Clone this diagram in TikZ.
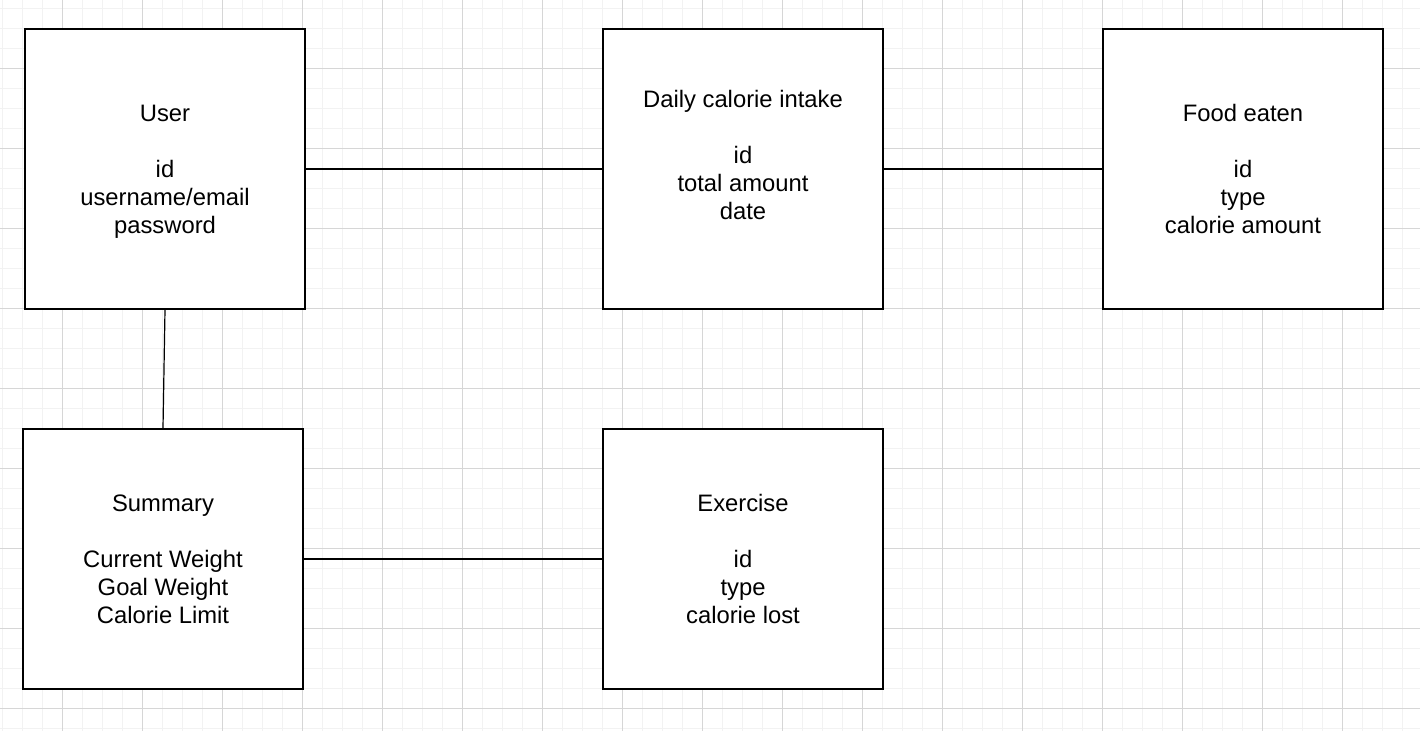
\documentclass[tikz,border=0pt]{standalone}
\usepackage{fontspec}
\setmainfont{Liberation Sans}

\definecolor{minorgrid}{RGB}{242,242,242}
\definecolor{majorgrid}{RGB}{214,214,214}

% строка одинаковой высоты
\newcommand\rowstrut{\rule[-2.8pt]{0pt}{14pt}}

\tikzset{
  entity/.style={draw, line width=0.8pt, fill=white, minimum width=140pt,
    minimum height=140pt, align=center, inner sep=0pt,
    font=\fontsize{11.9}{14}\selectfont},
  link/.style={line width=0.6pt}
}

\begin{document}
\begin{tikzpicture}[
  x=0.5pt,
  y=-0.5pt,
  line cap=rect,
  line join=miter
]
  \useasboundingbox (0,0) rectangle (1420,730);
  \fill[white] (0,0) rectangle (1420,730);

  % Сетка
  \foreach \x in {2,22,...,1420}
    \draw[minorgrid, line width=0.5pt] (\x,0) -- (\x,730);
  \foreach \y in {8,28,...,730}
    \draw[minorgrid, line width=0.5pt] (0,\y) -- (1420,\y);
  \foreach \x in {62,142,...,1420}
    \draw[majorgrid, line width=0.5pt] (\x,0) -- (\x,730);
  \foreach \y in {68,148,...,730}
    \draw[majorgrid, line width=0.5pt] (0,\y) -- (1420,\y);

  % Верхний ряд
  \node[entity] (user) at (165,169)
    {\rowstrut User\\ \\ id\\ username/email\\ password\rowstrut};
  \node[entity] (intake) at (743,169)
    {\rowstrut Daily calorie intake\\ \\ id\\ total amount\\ date\\ \rowstrut};
  \node[entity] (food) at (1243,169)
    {\rowstrut Food eaten\\ \\ id\\ type\\ calorie amount\rowstrut};

  % Нижний ряд
  \node[entity, minimum height=130pt] (summary) at (163,559)
    {\rowstrut Summary\\ \\ Current Weight\\ Goal Weight\\ Calorie Limit\rowstrut};
  \node[entity, minimum height=130pt] (exercise) at (743,559)
    {\rowstrut Exercise\\ \\ id\\ type\\ calorie lost\rowstrut};

  % Связи
  \draw[link] (user.east) -- (intake.west);
  \draw[link] (intake.east) -- (food.west);
  \draw[link] (user.south) -- (summary.north);
  \draw[link] (summary.east) -- (exercise.west);
\end{tikzpicture}
\end{document}
